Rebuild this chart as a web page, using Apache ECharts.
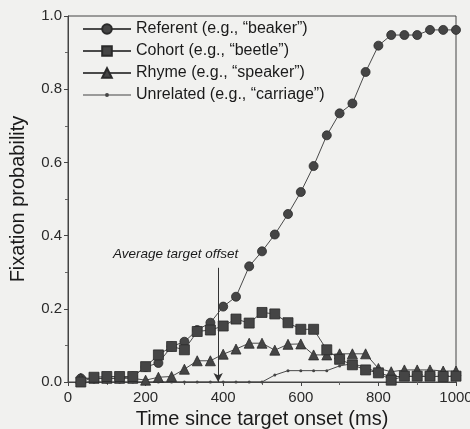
<!DOCTYPE html>
<html>
<head>
<meta charset="utf-8">
<script src="https://cdn.jsdelivr.net/npm/echarts@6/dist/echarts.min.js"></script>
<style>
html,body{margin:0;padding:0;background:#f1f1ef;}
#chart{width:470px;height:429px;}
</style>
</head>
<body>
<div id="chart"></div>
<script>
// ---- data ----
const times = [33,67,100,133,167,200,233,267,300,333,367,400,433,467,500,533,567,600,633,667,700,733,767,800,833,867,900,933,967,1000];
const referent = [0.01,0.01,0.01,0.01,0.015,0.041,0.052,0.097,0.11,0.142,0.162,0.206,0.233,0.316,0.357,0.403,0.459,0.519,0.59,0.674,0.734,0.761,0.847,0.919,0.948,0.948,0.948,0.962,0.962,0.962];
const cohort = [0,0.013,0.015,0.015,0.015,0.042,0.074,0.097,0.088,0.138,0.142,0.153,0.172,0.161,0.19,0.186,0.162,0.144,0.144,0.088,0.062,0.047,0.033,0.025,0.005,0.016,0.016,0.016,0.015,0.016];
const rhyme = [0.01,0.01,0.01,0.01,0.01,0.005,0.013,0.015,0.035,0.058,0.058,0.076,0.09,0.106,0.106,0.087,0.103,0.104,0.074,0.074,0.077,0.077,0.077,0.037,0.028,0.033,0.033,0.033,0.03,0.03];
const unrelated = [0,0,0,0,0,0,0,0,0,0,0,0,0,0,0,0.019,0.031,0.031,0.031,0.031,0.044,0.05,0.04,0.025,0.015,0.015,0.015,0.015,0.015,0.015];
const seriesNames = ['Referent (e.g., \u201cbeaker\u201d)','Cohort (e.g., \u201cbeetle\u201d)','Rhyme (e.g., \u201cspeaker\u201d)','Unrelated (e.g., \u201ccarriage\u201d)'];
const xTicks = [0,200,400,600,800,1000];
const yTicks = [0.0,0.2,0.4,0.6,0.8,1.0];
const avgOffset = 387;      // ms
const arrowTop = 0.312;     // probability where the arrow starts
const offsetLabel = 'Average target offset';
const xTitle = 'Time since target onset (ms)';
const yTitle = 'Fixation probability';

const pair = (arr) => times.map((t, i) => [t, arr[i]]);
const FONT = '"Liberation Sans", Arial, sans-serif';
const lineCol = '#4a4a4a';
const fillCol = '#454545';

const chart = echarts.init(document.getElementById('chart'), null, {renderer: 'canvas'});

function mk(name, data, symbol, size, z) {
  return {
    name: name, type: 'line', data: pair(data), symbol: symbol, symbolSize: size,
    z: z,
    lineStyle: {color: lineCol, width: 1},
    itemStyle: {color: fillCol, borderColor: '#2a2a2a', borderWidth: 0.8},
    emphasis: {disabled: true},
    animation: false
  };
}

const s0 = mk(seriesNames[0], referent, 'circle', 9, 3);
s0.markLine = {
  silent: true, animation: false,
  symbol: ['none', 'arrow'], symbolSize: [7, 9],
  lineStyle: {color: '#333', width: 1, type: 'solid'},
  label: {show: false},
  data: [[{coord: [avgOffset, arrowTop]}, {coord: [avgOffset, 0]}]]
};
const s1 = mk(seriesNames[1], cohort, 'rect', 10, 5);
const s2 = mk(seriesNames[2], rhyme, 'triangle', 10, 4);
const s3 = mk(seriesNames[3], unrelated, 'circle', 3, 2);
s3.itemStyle.borderWidth = 0;

chart.setOption({
  backgroundColor: '#f1f1ef',
  animation: false,
  textStyle: {fontFamily: FONT},
  grid: {left: 68, right: 14, top: 16, bottom: 47, containLabel: false, outerBoundsMode: 'none',
    show: true, borderColor: '#444', borderWidth: 1, backgroundColor: 'transparent'},
  legend: {
    orient: 'vertical', left: 77, top: 16,
    itemWidth: 48, itemHeight: 12, itemGap: 6,
    textStyle: {fontSize: 16, color: '#1a1a1a', fontFamily: FONT},
    data: [
      {name: seriesNames[0]},
      {name: seriesNames[1]},
      {name: seriesNames[2]},
      {name: seriesNames[3], icon: 'path://M0,5.5 L48,5.5 L48,6.5 L0,6.5 Z M22,6 A2,2 0 1 1 26,6 A2,2 0 1 1 22,6 Z'}
    ],
    selectedMode: false
  },
  xAxis: {
    type: 'value', min: xTicks[0], max: xTicks[xTicks.length - 1], interval: 200,
    name: xTitle, nameLocation: 'middle', nameGap: 18,
    nameTextStyle: {fontSize: 20, color: '#1a1a1a', fontFamily: FONT},
    axisLine: {show: true, lineStyle: {color: '#444'}},
    axisTick: {show: true, length: 4, lineStyle: {color: '#444'}},
    minorTick: {show: true, splitNumber: 2, length: 3, lineStyle: {color: '#666'}},
    splitLine: {show: false},
    axisLabel: {fontSize: 15, color: '#2a2a2a', margin: 8, fontFamily: FONT,
      formatter: (v) => xTicks.includes(v) ? String(v) : ''}
  },
  yAxis: {
    type: 'value', min: 0, max: 1, interval: 0.2,
    name: yTitle, nameLocation: 'middle', nameGap: 40,
    nameTextStyle: {fontSize: 20, color: '#1a1a1a', fontFamily: FONT},
    axisLine: {show: true, lineStyle: {color: '#444'}},
    axisTick: {show: true, length: 4, lineStyle: {color: '#444'}},
    minorTick: {show: true, splitNumber: 2, length: 3, lineStyle: {color: '#666'}},
    splitLine: {show: false},
    axisLabel: {fontSize: 15, color: '#2a2a2a', margin: 6, fontFamily: FONT,
      formatter: (v) => v.toFixed(1)}
  },
  series: [s0, s1, s2, s3]
});

// annotation text placed relative to the arrow start (computed through the axes)
const p = chart.convertToPixel({gridIndex: 0}, [avgOffset, arrowTop]);
chart.setOption({
  graphic: [{
    type: 'text', silent: true,
    x: p[0] + 20, y: p[1] - 7,
    style: {text: offsetLabel, fontSize: 13.5, fontStyle: 'italic', fontFamily: FONT, fill: '#1a1a1a', align: 'right', verticalAlign: 'bottom'}
  }]
});
</script>
</body>
</html>
